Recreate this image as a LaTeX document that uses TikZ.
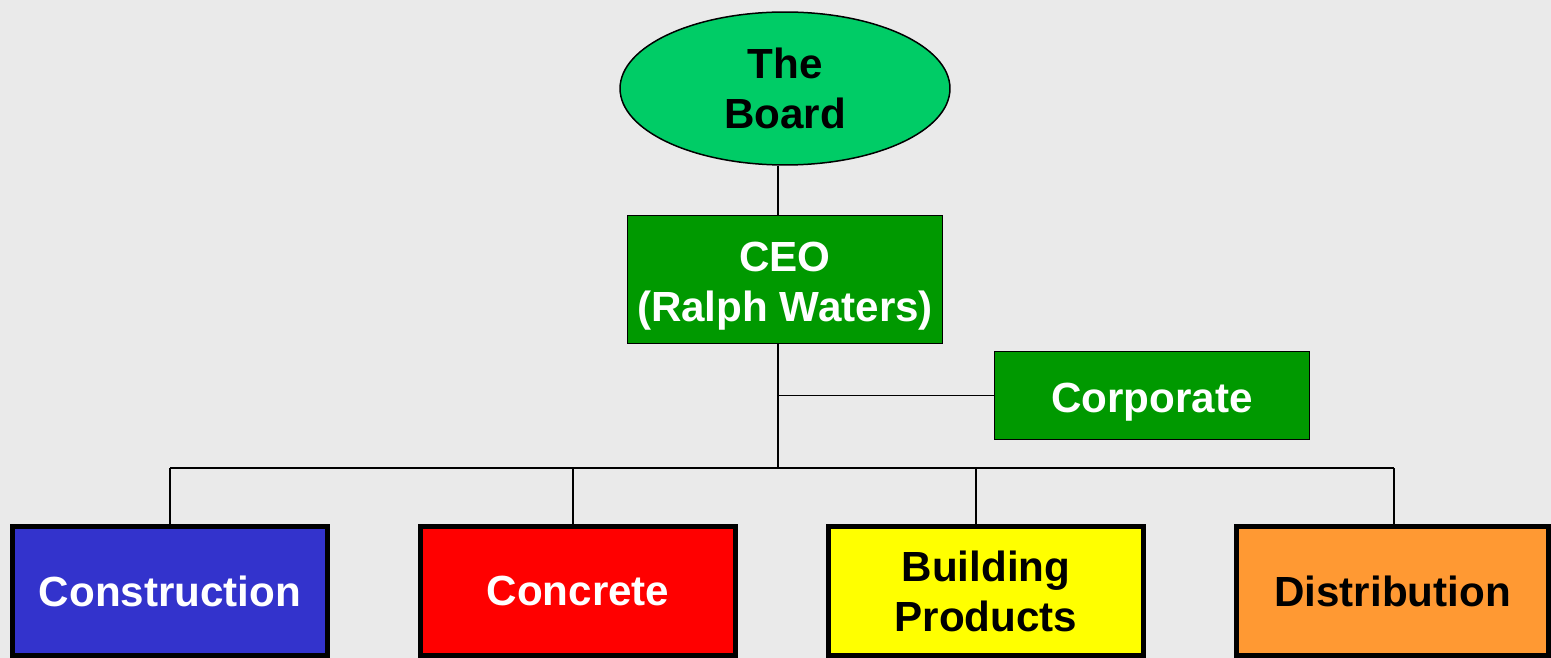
\documentclass[tikz,border=0pt]{standalone}
\usepackage{fontspec}
\setmainfont{Liberation Sans}
\usetikzlibrary{shapes.geometric}

\definecolor{paper}{HTML}{EAEAEA}
\definecolor{boardgreen}{HTML}{00CC66}
\definecolor{ceogreen}{HTML}{009900}
\definecolor{unitblue}{HTML}{3333CC}
\definecolor{unitred}{HTML}{FF0000}
\definecolor{unityellow}{HTML}{FFFF00}
\definecolor{unitorange}{HTML}{FF9933}

\begin{document}
\begin{tikzpicture}[x=0.02cm, y=-0.02cm,
  every node/.style={font=\fontsize{24}{28.5}\selectfont\bfseries, align=center, inner sep=0pt},
  head/.style={draw, line width=0.85pt, fill=ceogreen, text=white, minimum width=6.3cm, text depth=5pt},
  unit/.style={draw, line width=2.8pt, minimum width=6.3cm, minimum height=2.58cm},
  link/.style={line width=0.85pt}]
  \fill [paper] (0, 0) rectangle (1551, 658);
  % top of the chart
  \node [draw, ellipse, line width=0.85pt, fill=boardgreen, minimum width=6.6cm, minimum height=3.06cm] (board) at (785, 88.5) {The\\Board};
  \node [head, minimum height=2.56cm, text height=52.8pt] (ceo) at (785, 279.5) {CEO\\(Ralph Waters)};
  \node [head, minimum height=1.76cm, text height=24pt] (corp) at (1152, 395.5) {Corporate};
  % business units
  \node [unit, fill=unitblue, text=white] (constr) at (170, 591) {Construction};
  \node [unit, fill=unitred, text=white] (concr) at (578, 591) {Concrete};
  \node [unit, fill=unityellow] (build) at (986, 591) {Building\\Products};
  \node [unit, fill=unitorange, minimum width=6.24cm] (distr) at (1392.5, 591) {Distribution};
  % connectors
  \coordinate (trunk) at (778, 468);
  \coordinate (b1) at (170, 468);
  \coordinate (b2) at (573, 468);
  \coordinate (b3) at (976, 468);
  \coordinate (b4) at (1394, 468);
  \draw [link] (trunk |- board.south) -- (trunk |- ceo.north);
  \draw [link] (trunk |- ceo.south) -- (trunk);
  \draw [link] (trunk |- corp.west) -- (corp.west);
  \draw [link] (b1) -- (b4);
  \draw [link] (b1) -- (b1 |- constr.north);
  \draw [link] (b2) -- (b2 |- concr.north);
  \draw [link] (b3) -- (b3 |- build.north);
  \draw [link] (b4) -- (b4 |- distr.north);
\end{tikzpicture}
\end{document}
